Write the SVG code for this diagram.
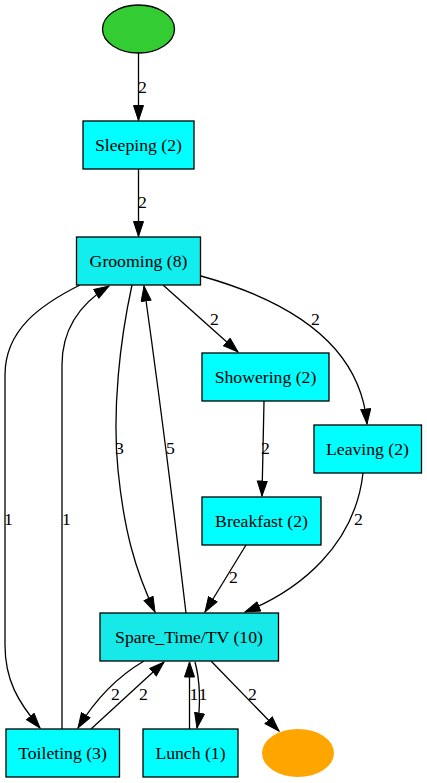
<svg xmlns="http://www.w3.org/2000/svg" width="427" height="783" viewBox="0 0 427 783">
<style>
.n rect{stroke:#000;stroke-width:1.3}
.t{text-anchor:middle}
.e path{fill:none;stroke:#000;stroke-width:1.3;marker-end:url(#a)}
</style>
<defs>
<marker id="a" markerUnits="userSpaceOnUse" markerWidth="17" markerHeight="12" refX="15.5" refY="5.5" orient="auto">
<path d="M0.5,0.5 L15.5,5.5 L0.5,10.5 z" fill="#000" stroke="#000" stroke-width="1"/>
</marker>
</defs>
<rect width="427" height="783" fill="#fff"/>
<g font-family="Liberation Serif, Times New Roman, serif" font-size="17.7" fill="#000">
<g id="edges" class="e">
<path d="M138.5,53 L138.5,120.5"/>
<path d="M138.5,169 L138.5,236.5"/>
<path d="M80,285 C40,305 5,330 5,375 L5,645 C5,680 18,702 40,728"/>
<path d="M62,729 L62,365 C62,330 78,305 109,286"/>
<path d="M132,285 C120,340 112,410 118,470 C124,530 135,570 155,612"/>
<path d="M186,613 C175,520 160,400 144,286"/>
<path d="M163,285 L238,352"/>
<path d="M201,276 C280,298 360,340 367,424"/>
<path d="M264,401 L262,496"/>
<path d="M363,473 C355,545 300,590 245,612"/>
<path d="M246,545 L205,612"/>
<path d="M144,661 C115,678 95,700 78,728"/>
<path d="M91,729 L164,662"/>
<path d="M189.5,729 L189.5,662"/>
<path d="M195,662 C200,680 201,705 197,728"/>
<path d="M211,661 L279,731"/>
<g>
<text x="138" y="93">2</text>
<text x="138" y="208">2</text>
<text x="4" y="525">1</text>
<text x="62" y="525">1</text>
<text x="115" y="454">3</text>
<text x="166" y="454">5</text>
<text x="210" y="325">2</text>
<text x="311" y="325">2</text>
<text x="261" y="454">2</text>
<text x="354" y="525">2</text>
<text x="229" y="583">2</text>
<text x="111" y="700">2</text>
<text x="139" y="700">2</text>
<text x="189.5" y="700">1</text>
<text x="198.5" y="700">1</text>
<text x="248" y="700">2</text>
</g>
</g>
<g id="start"><ellipse cx="138.5" cy="29" rx="36" ry="24" fill="#33cc33" stroke="#000" stroke-width="1.3"/></g>
<g id="sleeping" class="n"><rect x="83" y="121" width="111" height="48" fill="#00ffff"/><text class="t" x="138.5" y="151">Sleeping (2)</text></g>
<g id="grooming" class="n"><rect x="76.5" y="237" width="124" height="48" fill="#12eded"/><text class="t" x="138.5" y="267">Grooming (8)</text></g>
<g id="showering" class="n"><rect x="202" y="353" width="127" height="48" fill="#00ffff"/><text class="t" x="265.5" y="383">Showering (2)</text></g>
<g id="leaving" class="n"><rect x="314" y="425" width="107.5" height="48" fill="#00ffff"/><text class="t" x="367.5" y="455">Leaving (2)</text></g>
<g id="breakfast" class="n"><rect x="202" y="497" width="119" height="48" fill="#00ffff"/><text class="t" x="261.5" y="527">Breakfast (2)</text></g>
<g id="spare" class="n"><rect x="100" y="613" width="178.5" height="48" fill="#17e8e8"/><text class="t" x="189" y="643">Spare_Time/TV (10)</text></g>
<g id="toileting" class="n"><rect x="6" y="729" width="113.5" height="48" fill="#00ffff"/><text class="t" x="62.5" y="759">Toileting (3)</text></g>
<g id="lunch" class="n"><rect x="143" y="729" width="95" height="48" fill="#00ffff"/><text class="t" x="190.5" y="759">Lunch (1)</text></g>
<g id="end"><ellipse cx="298" cy="753" rx="36" ry="24" fill="#ffa500"/></g>
</g>
</svg>
